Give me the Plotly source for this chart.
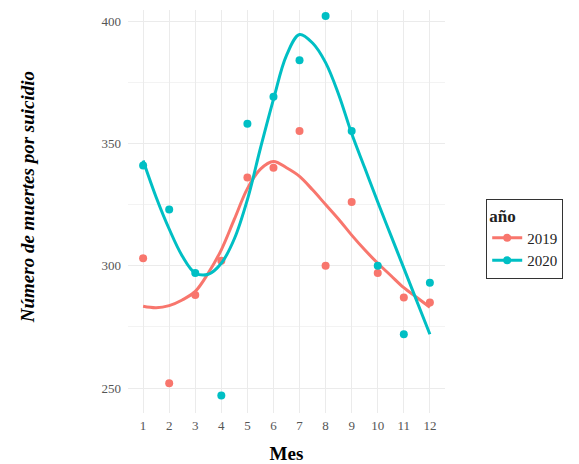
import plotly.graph_objects as go

meses = list(range(1, 13))
muertes_2019 = [303, 252, 288, 302, 336, 340, 355, 300, 326, 297, 287, 285]
muertes_2020 = [341, 323, 297, 247, 358, 369, 384, 402, 355, 300, 272, 293]

suave_x = [1, 1.5, 2, 2.5, 3, 3.5, 4, 4.5, 5, 5.5, 6, 6.5, 7, 7.5, 8, 8.5, 9, 9.5, 10, 10.5, 11, 11.5, 12]
suave_2019 = [283.4, 282.8, 283.7, 286, 289.5, 297, 306.5, 319, 331.5, 339.5, 342.6, 340, 336.5, 331,
              325, 319, 312.5, 306.5, 301, 296, 291, 287, 283]
suave_2020 = [343, 328, 315, 304, 297, 296.5, 301, 311, 327, 348, 368, 386, 394.5, 391,
              383, 370, 354, 340, 326, 312.5, 299, 285.5, 272]

anios = ["2019", "2020"]
colores = ["#F8766D", "#00BFC4"]

fig = go.Figure()
for nombre, col, ys, ss in zip(anios, colores, [muertes_2019, muertes_2020], [suave_2019, suave_2020]):
    fig.add_trace(go.Scatter(x=meses, y=ys, mode="markers", showlegend=False,
                             marker=dict(color=col, size=8)))
    fig.add_trace(go.Scatter(x=suave_x, y=ss, mode="lines", showlegend=False,
                             line=dict(color=col, width=3, shape="spline")))
    fig.add_trace(go.Scatter(x=[None], y=[None], mode="lines+markers", name=nombre,
                             line=dict(color=col, width=3), marker=dict(color=col, size=8)))

serif = "Liberation Serif"
fig.update_layout(
    width=579, height=464,
    margin=dict(l=128, r=134, t=10, b=51, autoexpand=False),
    paper_bgcolor="white", plot_bgcolor="white",
    font=dict(family=serif, color="#4d4d4d", size=13),
    xaxis=dict(range=[0.42, 12.58], tickmode="array", tickvals=meses,
               ticktext=[str(m) for m in meses], showgrid=True, gridcolor="#ebebeb",
               zeroline=False, showline=False, ticks="", ticklabelstandoff=3,
               tickfont=dict(size=13, color="#555555"),
               title=dict(text="<b>Mes</b>", font=dict(size=19, color="black", family=serif), standoff=16)),
    yaxis=dict(range=[239.8, 404.5], tickvals=[250, 300, 350, 400], showgrid=True,
               gridcolor="#ebebeb", zeroline=False, showline=False, ticks="", ticklabelstandoff=6,
               tickfont=dict(size=13, color="#555555"),
               minor=dict(tickvals=[275, 325, 375], showgrid=True, gridcolor="#f3f3f3")),
    legend=dict(x=1.13, xanchor="left", xref="paper", y=0.433, yanchor="middle",
                bordercolor="#333333", borderwidth=1, bgcolor="white",
                title=dict(text="<b>año</b>", font=dict(size=17, color="#222222")),
                font=dict(size=15, color="#222222"), tracegroupgap=2),
    annotations=[dict(text="<b><i>Número de muertes por suicidio</i></b>", textangle=-90,
                      xref="paper", yref="paper", x=-0.316, y=0.535, xanchor="center", yanchor="middle",
                      showarrow=False, font=dict(size=19, color="black", family=serif))],
)

fig.write_html("out.html", post_script="document.body.style.margin='0';",
               config={"displayModeBar": False})
